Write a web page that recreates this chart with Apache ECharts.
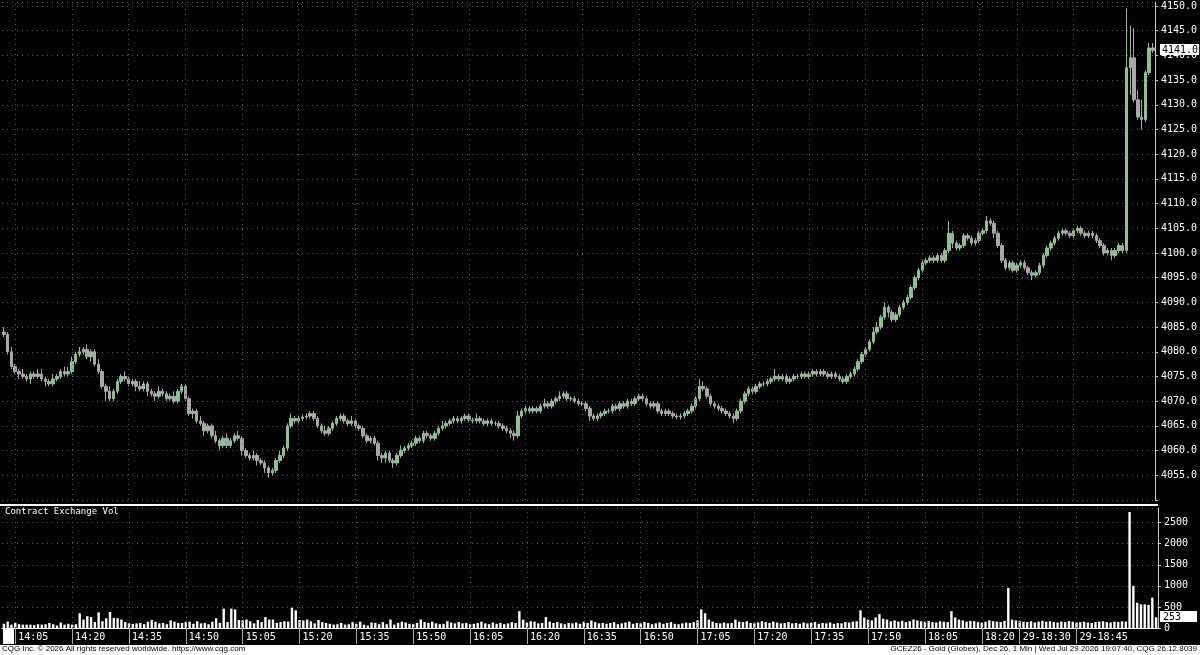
<!DOCTYPE html>
<html>
<head>
<meta charset="utf-8">
<script src="https://cdn.jsdelivr.net/npm/echarts@6/dist/echarts.min.js"></script>
<style>html,body{margin:0;background:#000}#c{width:1200px;height:655px}</style>
</head>
<body>
<div id="c"></div>
<script>
// 1 min bars from 14:02, closes
var startMin = 14 * 60 + 2;
var closes = [
  4083.5,4080,4077,4076,4075.5,4075,4074.5,4075.5,4075,4075.5,
  4074.5,4074,4073.5,4074.5,4075,4076,4075.5,4076,4078,4079.5,
  4080,4080.5,4079,4080,4077.5,4076,4073,4072,4070.5,4072,
  4074,4075,4074.5,4073.5,4074,4073,4072.5,4073.5,4072,4071.5,
  4071,4072,4071.5,4070.5,4071,4070,4072,4073,4070.5,4067.5,
  4068,4066,4065.5,4064,4065,4063,4062,4061,4062.5,4061,
  4062,4063,4062.5,4060,4059,4058.5,4059,4058,4057.5,4056.5,
  4055.5,4056,4058,4059,4060.5,4065,4066.5,4066,4066.5,4066.8,
  4067,4067.5,4066.5,4065,4064,4063.5,4064.5,4065.5,4066.5,4067,
  4066,4065.5,4066,4065,4064.5,4063,4062,4062.5,4061.5,4059,
  4058.5,4059.5,4058,4057.5,4059,4060,4060.5,4061,4061.5,4062.5,
  4062,4063.5,4063,4062.5,4063.5,4064.5,4065,4065.5,4066,4066.5,
  4066,4066.5,4067,4066.2,4066,4066.5,4066,4065.5,4066,4065.5,
  4065.5,4065,4064.5,4064,4063.5,4063,4067,4068,4068.5,4068,
  4068.5,4068,4069,4069.5,4069,4070,4070.5,4071,4071.5,4070.5,
  4070.5,4070,4069.5,4069.5,4068.5,4067,4066.5,4067,4067.5,4068,
  4068,4069,4068.5,4069.5,4069,4070,4069.5,4070.5,4071,4070.5,
  4069.5,4069,4069.5,4068,4067.5,4068,4067.5,4067,4066.8,4067,
  4067.5,4068,4069,4070.5,4073,4072.5,4071,4069.5,4069,4068.5,
  4068,4067.5,4067,4066.5,4068,4070,4071.5,4072.5,4072,4073,
  4073.5,4073.5,4074,4074.5,4075,4074.5,4075,4074,4074.5,4075,
  4075,4075.5,4075,4075.5,4076,4075.5,4076,4075.5,4075,4075.5,
  4075,4074.5,4074,4075,4075.5,4076.5,4078,4079.5,4080.5,4082,
  4084,4085,4087,4089,4088,4086.5,4087.5,4089,4090,4091,
  4093,4095,4096.5,4098,4098.5,4099,4098.5,4099.5,4098.5,4100.5,
  4104,4102,4101,4101.5,4103.5,4103,4102,4102.5,4104,4104.5,
  4106.5,4106,4104,4101.5,4098.5,4097,4098,4096.5,4097.5,4098,
  4097,4096,4095.5,4096,4097.5,4099.5,4101,4102,4103,4104,
  4104.5,4104,4103.5,4104.5,4105,4104,4103.5,4104,4103.5,4102.5,
  4101.5,4100,4100.5,4099.5,4100.5,4101.5,4100.5,4137.5,4139.5,4131,
  4127.5,4127,4136.5,4141.5,4141
];
var wickUp = [
  1,0.5,1,0.5,0.5,1,0.5,0.5,0.5,1,
  1,0.5,0.5,1,0.5,0.5,1,1,1,0.5,
  1,0.5,1,0.5,0.5,1,0.5,0.5,1,0.5,
  0.5,0.5,1,0.5,0.5,0.5,1,0.5,0.5,0.5,
  0.5,1,0.5,0.5,0.5,1,0.5,0.5,0.5,0.5,
  0.5,0.5,1,0.5,0.5,0.5,1,0.5,0.5,1,
  0.5,0.5,1,0.5,0.5,0.5,1,0.5,0.5,0.5,
  0.5,0.5,0.5,1,0.5,0.5,1,0.5,0.5,0.5,
  0.5,0.5,0.5,0.5,0.5,1,0.5,0.5,0.5,0.5,
  0.5,0.5,1,0.5,0.5,0.5,0.5,0.5,0.5,0.5,
  0.5,0.5,0.5,0.5,0.5,1,0.5,0.5,0.5,0.5,
  0.5,0.5,0.5,0.5,0.5,0.5,1,0.5,0.5,0.5,
  0.5,0.5,0.5,0.5,0.5,1,0.5,0.5,0.5,0.5,
  0.5,0.5,0.5,0.5,0.5,0.5,1,0.5,0.5,0.5,
  0.5,0.5,0.5,1,0.5,0.5,0.5,1,0.5,0.5,
  0.5,0.5,0.5,0.5,0.5,0.5,0.5,0.5,0.5,0.5,
  0.5,0.5,0.5,0.5,0.5,0.5,0.5,0.5,0.5,0.5,
  0.5,0.5,0.5,0.5,0.5,0.5,0.5,0.5,0.5,0.5,
  0.5,0.5,0.5,0.5,1.5,1,0.5,0.5,0.5,0.5,
  0.5,0.5,0.5,0.5,0.5,0.5,0.5,0.5,0.5,0.5,
  0.5,0.5,0.5,0.5,1.5,0.5,0.5,0.5,0.5,0.5,
  0.5,0.5,0.5,0.5,0.5,0.5,0.5,0.5,0.5,0.5,
  0.5,0.5,0.5,0.5,0.5,0.5,0.5,0.5,0.5,0.5,
  1,1,0.5,1,0.5,0.5,0.5,0.5,0.5,0.5,
  0.5,0.5,0.5,0.5,0.5,0.5,0.5,0.5,0.5,0.5,
  2.5,0.5,0.5,0.5,0.5,0.5,0.5,0.5,0.5,0.5,
  1,0.5,0.5,0.5,0.5,0.5,0.5,0.5,0.5,0.5,
  0.5,0.5,0.5,0.5,0.5,0.5,0.5,0.5,0.5,0.5,
  0.5,0.5,0.5,0.5,0.5,0.5,0.5,0.5,0.5,0.5,
  0.5,0.5,0.5,0.5,0.5,0.5,0.5,12,6.5,6,
  2,3.5,0.5,1,1
];
var wickDn = [
  0.5,0.5,0.5,0.5,1,0.5,0.5,1,0.5,0.5,
  0.5,1,0.5,0.5,0.5,0.5,0.5,0.5,0.5,0.5,
  0.5,0.5,0.5,1,0.5,0.5,0.5,2,0.5,0.5,
  0.5,0.5,0.5,0.5,0.5,1,0.5,0.5,1,0.5,
  1,0.5,0.5,0.5,0.5,0.5,0.5,0.5,0.5,0.5,
  1,0.5,0.5,1,0.5,0.5,0.5,1,0.5,0.5,
  0.5,0.5,0.5,1,0.5,0.5,0.5,1,0.5,1,
  1,0.5,0.5,0.5,0.5,0.5,0.5,0.5,0.5,0.5,
  0.5,0.5,0.5,0.5,0.5,0.5,0.5,0.5,0.5,0.5,
  0.5,0.5,0.5,0.5,0.5,0.5,0.5,0.5,0.5,1,
  1,1,0.5,1,0.5,0.5,0.5,0.5,0.5,0.5,
  0.5,0.5,0.5,0.5,0.5,0.5,0.5,0.5,0.5,0.5,
  0.5,0.5,0.5,0.5,0.5,0.5,0.5,0.5,0.5,0.5,
  0.5,0.5,0.5,0.5,1,1,0.5,0.5,0.5,0.5,
  0.5,0.5,0.5,0.5,0.5,0.5,0.5,0.5,0.5,0.5,
  0.5,0.5,0.5,0.5,0.5,1,0.5,0.5,0.5,0.5,
  0.5,0.5,0.5,0.5,0.5,0.5,0.5,0.5,0.5,0.5,
  0.5,0.5,0.5,0.5,0.5,0.5,0.5,0.5,0.5,0.5,
  0.5,0.5,0.5,0.5,0.5,0.5,0.5,0.5,0.5,0.5,
  0.5,0.5,0.5,1,0.5,0.5,0.5,0.5,0.5,0.5,
  0.5,0.5,0.5,0.5,0.5,0.5,0.5,0.5,0.5,0.5,
  0.5,0.5,0.5,0.5,0.5,0.5,0.5,0.5,0.5,0.5,
  0.5,0.5,0.5,0.5,0.5,0.5,0.5,0.5,0.5,0.5,
  0.5,0.5,0.5,0.5,1,0.5,0.5,0.5,0.5,0.5,
  0.5,0.5,0.5,0.5,0.5,0.5,0.5,0.5,0.5,0.5,
  0.5,1,0.5,0.5,0.5,0.5,0.5,0.5,0.5,0.5,
  0.5,0.5,1,0.5,0.5,0.5,0.5,0.5,0.5,0.5,
  0.5,0.5,1,0.5,0.5,0.5,0.5,0.5,0.5,0.5,
  0.5,0.5,0.5,0.5,0.5,0.5,0.5,0.5,0.5,0.5,
  0.5,0.5,0.5,1,0.5,0.5,0.5,0.5,5.5,0.5,
  0.5,2,0.5,0.5,0.5
];
var volumes = [
  100,150,80,120,90,80,80,80,70,90,
  80,90,120,90,60,130,80,100,80,90,
  350,200,280,260,140,370,160,230,380,240,
  230,200,140,110,100,110,120,90,150,190,
  150,110,120,90,180,150,120,120,150,150,
  100,160,110,120,90,150,230,120,460,140,
  460,440,190,180,200,160,110,190,140,260,
  200,200,120,140,160,150,480,420,190,180,
  200,160,110,190,140,120,100,80,90,120,
  80,90,140,100,150,80,60,130,120,90,
  140,90,200,80,120,150,130,100,90,120,
  200,140,120,150,110,90,100,160,130,110,
  140,110,120,90,100,120,150,110,90,130,
  100,120,90,110,140,120,400,200,130,160,
  150,110,120,260,150,120,140,110,90,120,
  110,130,100,150,120,180,140,110,120,100,
  120,140,90,110,130,150,100,120,110,140,
  120,90,110,130,100,120,140,100,90,110,
  130,120,140,180,440,350,200,150,120,110,
  130,110,120,200,150,140,160,120,110,130,
  160,140,120,150,130,110,120,140,110,120,
  100,130,110,120,140,100,120,110,130,100,
  120,110,140,130,150,160,420,250,200,180,
  250,330,220,200,160,180,150,170,140,160,
  200,180,160,150,170,140,130,160,150,140,
  400,250,200,180,150,170,160,140,130,150,
  180,160,150,140,170,950,200,180,160,150,
  140,160,130,150,170,150,160,140,130,150,
  140,160,150,130,140,150,130,120,140,150,
  160,140,130,150,140,160,150,2750,1000,600,
  560,560,550,720,253
];
var priceTicks = [4055,4060,4065,4070,4075,4080,4085,4090,4095,4100,4105,4110,4115,4120,4125,4130,4135,4140,4145,4150];
var timeLabels = ['14:05','14:20','14:35','14:50','15:05','15:20','15:35','15:50','16:05','16:20','16:35','16:50','17:05','17:20','17:35','17:50','18:05','18:20','18:30','18:45'];
var datePrefix = {'18:30':'29-18:30','18:45':'29-18:45'};
var lastPrice = 4141.0;
var lastVol = 253;

var cats = [], ohlc = [];
for (var i = 0; i < closes.length; i++) {
    var m = startMin + i;
    var h = Math.floor(m / 60), mm = m % 60;
    cats.push(h + ':' + (mm < 10 ? '0' : '') + mm);
    var o = i === 0 ? closes[0] + 0.5 : closes[i - 1];
    var c = closes[i];
    ohlc.push([o, c, Math.min(o, c) - wickDn[i], Math.max(o, c) + wickUp[i]]);
}
function isLabel(idx) { return timeLabels.indexOf(cats[idx]) >= 0; }

var mono = 'DejaVu Sans Mono';
var gridDots = {color: '#5a5a5a', type: [1, 4], width: 1};
var timeLines = timeLabels.map(function (t) { return {xAxis: t}; });

var myChart = echarts.init(document.getElementById('c'));
var option = {
    backgroundColor: '#000',
    animation: false,
    grid: [
        {left: 2, right: 42, top: 2, height: 498},
        {left: 2, right: 42, top: 508, bottom: 27}
    ],
    xAxis: [
        {type: 'category', gridIndex: 0, data: cats, boundaryGap: true,
         axisLine: {show: false}, axisTick: {show: false}, axisLabel: {show: false}, splitLine: {show: false}},
        {type: 'category', gridIndex: 1, data: cats, boundaryGap: true,
         axisLine: {show: true, lineStyle: {color: '#fff'}},
         axisTick: {show: true, interval: function (idx) { return isLabel(idx); }, length: 16, alignWithLabel: true, lineStyle: {color: '#aaa'}},
         axisLabel: {interval: function (idx) { return isLabel(idx); }, color: '#fff', fontFamily: mono, fontSize: 10, align: 'left', margin: 4, padding: [0, 0, 0, 3],
            formatter: function (v) { return datePrefix[v] || v; }},
         splitLine: {show: false}}
    ],
    yAxis: [
        {type: 'value', gridIndex: 0, position: 'right', min: 4050, max: 4150.8, interval: 5,
         axisLine: {show: true, lineStyle: {color: '#ccc'}}, axisTick: {show: true, length: 3, lineStyle: {color: '#ccc'}},
         axisLabel: {color: '#fff', fontFamily: mono, fontSize: 10, margin: 6, showMaxLabel: false,
            formatter: function (v) { return priceTicks.indexOf(v) >= 0 ? v.toFixed(1) : ''; }},
         splitLine: {show: true, lineStyle: gridDots}},
        {type: 'value', gridIndex: 1, position: 'right', min: 0, max: 2846, interval: 500,
         axisLine: {show: true, lineStyle: {color: '#ccc'}}, axisTick: {show: true, length: 3, lineStyle: {color: '#ccc'}},
         axisLabel: {color: '#fff', fontFamily: mono, fontSize: 10, margin: 6, showMaxLabel: false,
            formatter: function (v) { return String(v); }},
         splitLine: {show: true, lineStyle: gridDots}}
    ],
    series: [
        {type: 'candlestick', xAxisIndex: 0, yAxisIndex: 0, data: ohlc, barWidth: 3, z: 3,
         itemStyle: {color: '#8fc08f', borderColor: '#8fc08f', color0: '#a8a8a8', borderColor0: '#a8a8a8', borderWidth: 1},
         markLine: {symbol: 'none', silent: true, animation: false, data: timeLines, lineStyle: gridDots, label: {show: false}}},
        {type: 'bar', xAxisIndex: 1, yAxisIndex: 1, data: volumes, barWidth: 2.4, z: 3,
         itemStyle: {color: '#fff'},
         markLine: {symbol: 'none', silent: true, animation: false, data: timeLines, lineStyle: gridDots, label: {show: false}}}
    ]
};
myChart.setOption(option);

// last value tags on the right axes, placed through the axis scales
var yP = Math.round(myChart.convertToPixel({yAxisIndex: 0}, lastPrice));
var yV = Math.round(myChart.convertToPixel({yAxisIndex: 1}, lastVol));
var axisX = 1200 - 42;
myChart.setOption({graphic: [
    {type: 'rect', left: 0, top: 504, shape: {width: 1158, height: 2}, style: {fill: '#fff'}},
    {type: 'text', left: 5, top: 507, style: {text: 'Contract Exchange Vol', fill: '#fff', font: '9px "DejaVu Sans Mono"'}},
    {type: 'rect', left: 3, top: 629, shape: {width: 11, height: 15}, style: {fill: '#fff'}},
    {type: 'rect', left: 0, top: 645, shape: {width: 1200, height: 10}, style: {fill: '#fff'}},
    {type: 'text', left: 2, top: 645, style: {text: 'CQG Inc. © 2026 All rights reserved worldwide. https://www.cqg.com', fill: '#000', font: '8px "Liberation Sans"'}},
    {type: 'text', right: 3, top: 645, style: {text: 'GCEZ26 - Gold (Globex), Dec 26, 1 Min | Wed Jul 29 2026 19:07:40, CQG 26.12.8039', fill: '#000', font: '8px "Liberation Sans"'}},
    {type: 'text', left: axisX + 2, top: yP - 6, z: 10, style: {text: lastPrice.toFixed(1), fill: '#000', backgroundColor: '#fff', padding: [1, 1, 0, 2], font: '10px "DejaVu Sans Mono"'}},
    {type: 'text', left: axisX + 2, top: yV - 6, z: 10, style: {text: String(lastVol), fill: '#000', backgroundColor: '#fff', padding: [1, 16, 0, 3], font: '10px "DejaVu Sans Mono"'}}
]});
</script>
</body>
</html>
